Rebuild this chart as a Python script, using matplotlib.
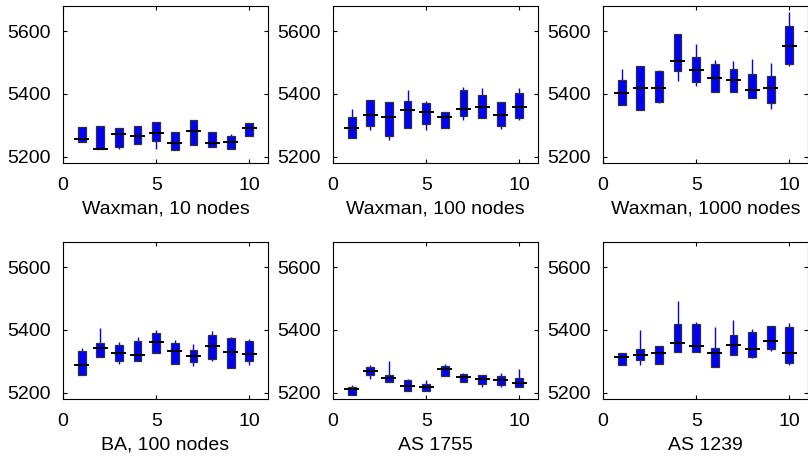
import numpy as np
import matplotlib
matplotlib.use('Agg')
import matplotlib.pyplot as plt

plt.rcParams['font.family'] = ['Liberation Sans', 'DejaVu Sans']

runs = np.arange(1, 11)

titles = ['Waxman, 10 nodes', 'Waxman, 100 nodes', 'Waxman, 1000 nodes',
          'BA, 100 nodes', 'AS 1755', 'AS 1239']

# box top (q3), box bottom (q1), median, whisker high, whisker low
wax10_q3  = [5294, 5298, 5292, 5298, 5310, 5279, 5317, 5278, 5265, 5308]
wax10_q1  = [5247, 5226, 5231, 5242, 5250, 5221, 5237, 5231, 5223, 5266]
wax10_med = [5257, 5226, 5273, 5265, 5276, 5245, 5281, 5243, 5248, 5292]
wax10_hi  = [5294, 5298, 5292, 5298, 5310, 5279, 5317, 5278, 5273, 5308]
wax10_lo  = [5247, 5226, 5223, 5242, 5223, 5221, 5237, 5231, 5223, 5266]

wax100_q3  = [5326, 5382, 5375, 5376, 5371, 5342, 5411, 5397, 5374, 5403]
wax100_q1  = [5260, 5299, 5266, 5292, 5305, 5291, 5330, 5322, 5297, 5324]
wax100_med = [5290, 5333, 5327, 5348, 5342, 5326, 5352, 5358, 5333, 5358]
wax100_hi  = [5352, 5382, 5375, 5414, 5379, 5342, 5421, 5419, 5374, 5419]
wax100_lo  = [5260, 5285, 5253, 5292, 5285, 5291, 5316, 5322, 5289, 5316]

wax1000_q3  = [5444, 5490, 5474, 5591, 5517, 5495, 5480, 5463, 5456, 5615]
wax1000_q1  = [5366, 5349, 5375, 5473, 5439, 5406, 5406, 5387, 5370, 5494]
wax1000_med = [5404, 5419, 5419, 5505, 5476, 5450, 5443, 5413, 5418, 5553]
wax1000_hi  = [5479, 5490, 5476, 5591, 5560, 5509, 5505, 5511, 5499, 5660]
wax1000_lo  = [5366, 5349, 5370, 5442, 5424, 5406, 5406, 5387, 5352, 5488]

ba_q3  = [5333, 5358, 5353, 5366, 5390, 5358, 5337, 5385, 5375, 5365]
ba_q1  = [5258, 5315, 5301, 5301, 5326, 5293, 5297, 5308, 5279, 5300]
ba_med = [5288, 5341, 5328, 5321, 5362, 5333, 5318, 5350, 5330, 5323]
ba_hi  = [5342, 5407, 5361, 5376, 5401, 5369, 5356, 5395, 5377, 5372]
ba_lo  = [5258, 5315, 5291, 5301, 5326, 5293, 5284, 5302, 5279, 5287]

as1755_q3  = [5218, 5281, 5257, 5239, 5227, 5284, 5260, 5255, 5253, 5246]
as1755_q1  = [5194, 5256, 5234, 5206, 5206, 5253, 5233, 5228, 5226, 5219]
as1755_med = [5212, 5268, 5247, 5221, 5218, 5276, 5250, 5244, 5241, 5231]
as1755_hi  = [5226, 5287, 5302, 5245, 5241, 5290, 5264, 5255, 5264, 5277]
as1755_lo  = [5194, 5243, 5234, 5206, 5206, 5253, 5233, 5218, 5218, 5219]

as1239_q3  = [5328, 5340, 5349, 5418, 5418, 5342, 5384, 5393, 5412, 5409]
as1239_q1  = [5289, 5304, 5293, 5331, 5331, 5283, 5320, 5314, 5338, 5296]
as1239_med = [5313, 5319, 5326, 5358, 5349, 5326, 5351, 5339, 5365, 5326]
as1239_hi  = [5328, 5399, 5349, 5492, 5425, 5408, 5432, 5402, 5412, 5422]
as1239_lo  = [5289, 5289, 5293, 5331, 5331, 5283, 5320, 5311, 5334, 5289]

panels = [
    (wax10_q3, wax10_q1, wax10_med, wax10_hi, wax10_lo),
    (wax100_q3, wax100_q1, wax100_med, wax100_hi, wax100_lo),
    (wax1000_q3, wax1000_q1, wax1000_med, wax1000_hi, wax1000_lo),
    (ba_q3, ba_q1, ba_med, ba_hi, ba_lo),
    (as1755_q3, as1755_q1, as1755_med, as1755_hi, as1755_lo),
    (as1239_q3, as1239_q1, as1239_med, as1239_hi, as1239_lo),
]

fig = plt.figure(figsize=(8.08, 4.58), dpi=100)

lefts = [63/808, 333/808, 603/808]
bottoms = [1 - 163/458, 1 - 399/458]
w = 205/808
h = 157/458

for k, (q3, q1, med, hi, lo) in enumerate(panels):
    row, col = divmod(k, 3)
    ax = fig.add_axes([lefts[col], bottoms[row], w, h])
    q3 = np.array(q3); q1 = np.array(q1)
    ax.vlines(runs, lo, hi, color='blue', lw=1, zorder=2)
    ax.bar(runs, q3 - q1, bottom=q1, width=0.42, color='blue',
           edgecolor='#303030', lw=0.9, zorder=3)
    ax.hlines(med, runs - 0.4, runs + 0.4, color='black', lw=1.4, zorder=4)
    ax.set_xlim(0, 11)
    ax.set_ylim(5180, 5680)
    ax.set_xticks([0, 5, 10])
    ax.set_yticks([5200, 5400, 5600])
    ax.tick_params(direction='in', top=True, right=True, labelsize=14,
                   length=3)
    ax.tick_params(axis='x', pad=10)
    ax.tick_params(axis='y', pad=9)
    ax.set_xlabel(titles[k], fontsize=14, labelpad=5)

plt.savefig('out.png', dpi=100)
